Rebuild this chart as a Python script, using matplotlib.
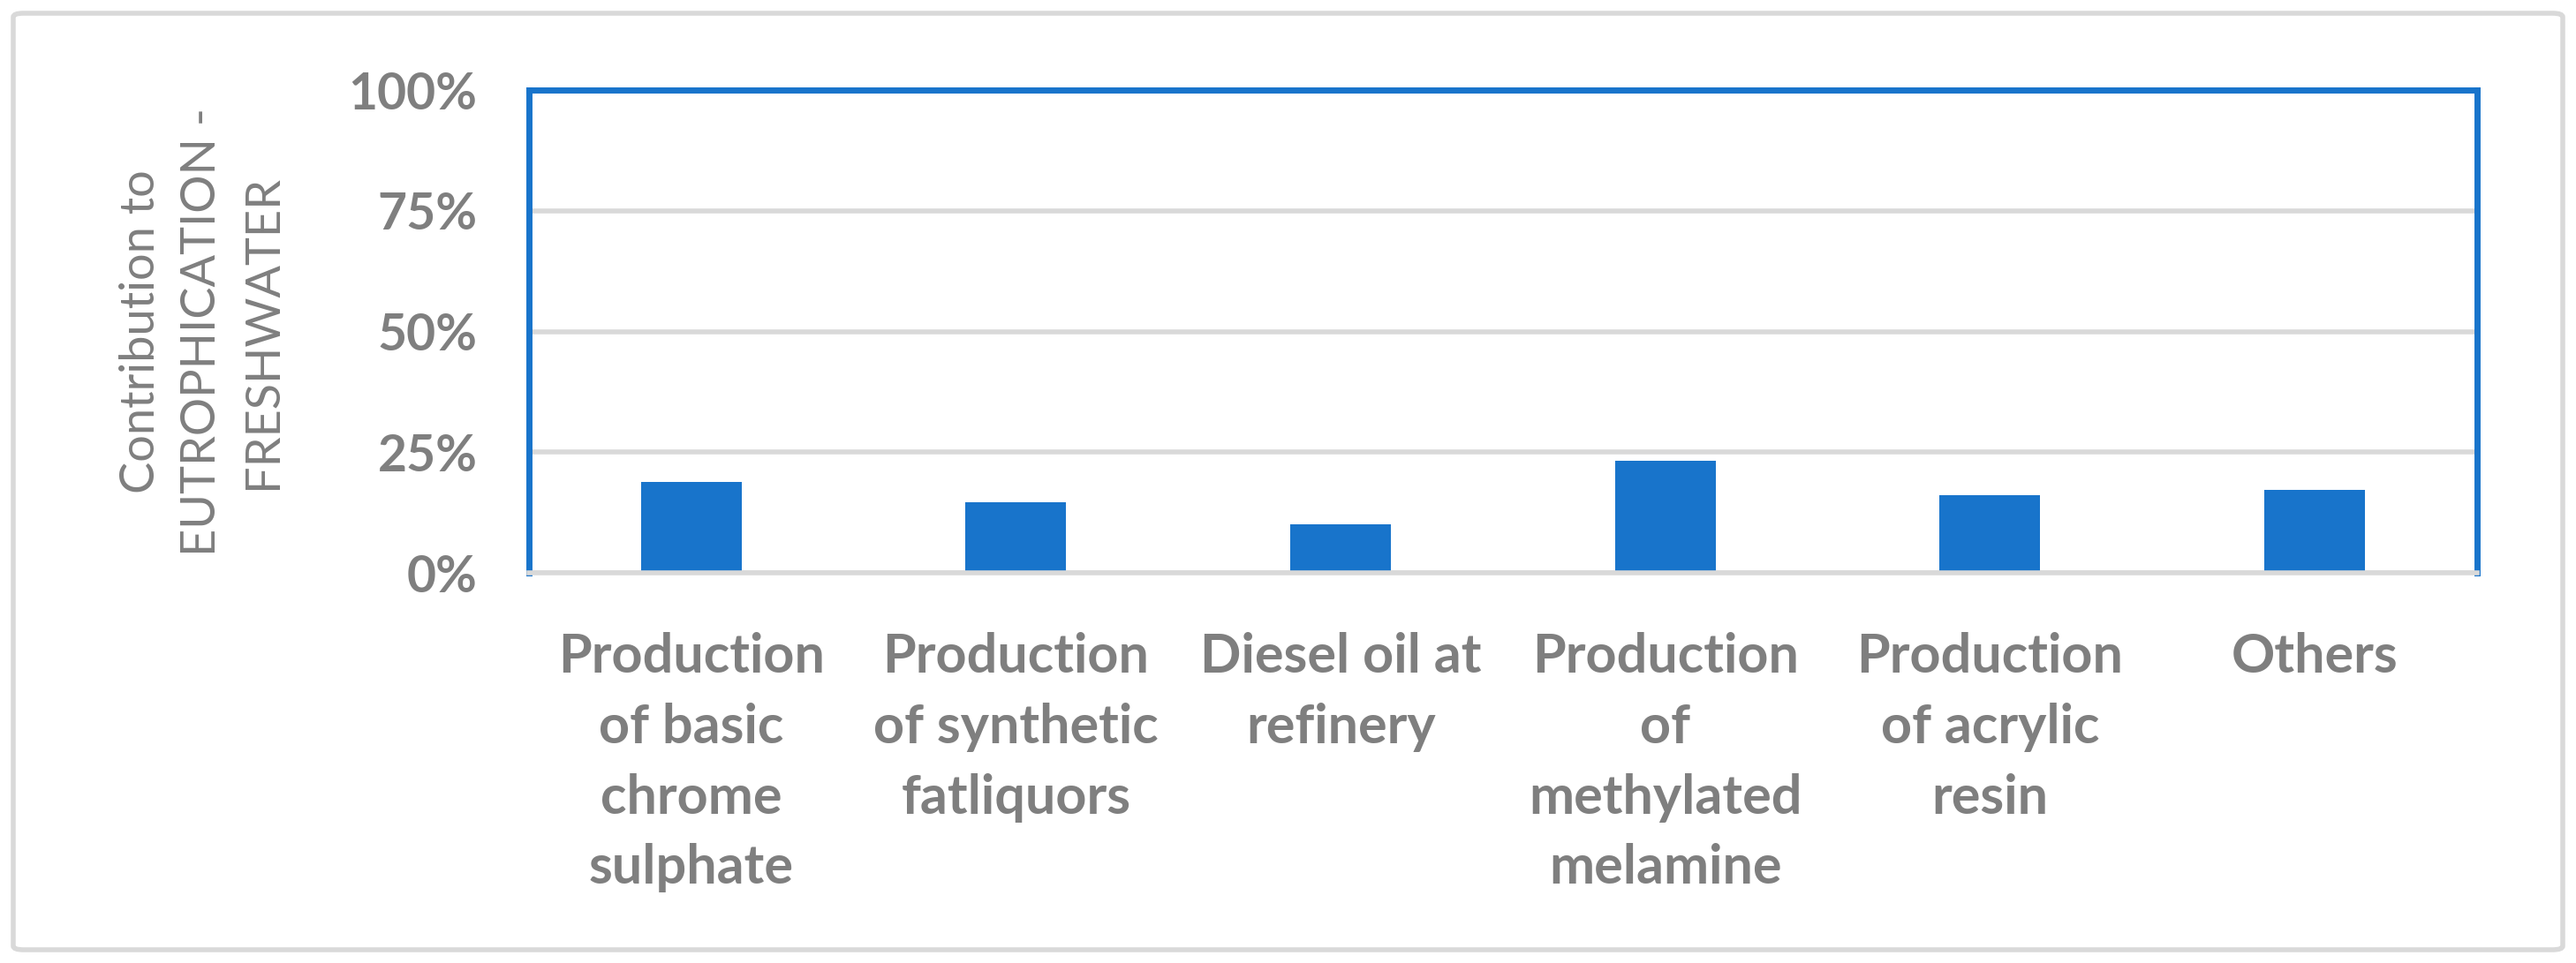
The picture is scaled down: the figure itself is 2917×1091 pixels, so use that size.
import matplotlib.pyplot as plt
from matplotlib.patches import FancyBboxPatch

categories = ['Production\nof basic\nchrome\nsulphate',
              'Production\nof synthetic\nfatliquors',
              'Diesel oil at\nrefinery',
              'Production\nof\nmethylated\nmelamine',
              'Production\nof acrylic\nresin',
              'Others']
values = [18.9, 14.7, 10.0, 23.2, 16.1, 17.1]
yticks = [0, 25, 50, 75, 100]
ytick_labels = ['0%', '25%', '50%', '75%', '100%']
ylabel = 'Contribution to\nEUTROPHICATION -\nFRESHWATER'

blue = '#1874CB'
grey_txt = '#7F7F7F'
grey_line = '#D9D9D9'

plt.rcParams['font.family'] = ['Lato', 'DejaVu Sans']

def main():
    fig = plt.figure(figsize=(29.17, 10.91), dpi=100)
    ax = fig.add_axes([0.2053, 0.4051, 0.7563, 0.5014])

    x = range(len(categories))
    ax.bar(x, values, width=0.31, color=blue, zorder=3)

    ax.set_xlim(-0.5, len(categories) - 0.5)
    ax.set_ylim(0, 100)
    ax.set_yticks(yticks)
    ax.set_yticklabels(ytick_labels)
    ax.set_xticks(list(x))
    ax.set_xticklabels(categories, linespacing=1.52, va='top')

    ax.grid(axis='y', color=grey_line, linewidth=4, zorder=0)
    ax.tick_params(axis='y', length=0, pad=42, labelsize=41, labelcolor=grey_txt)
    ax.tick_params(axis='x', length=0, pad=48, labelsize=44, labelcolor=grey_txt)
    for lab in ax.get_xticklabels() + ax.get_yticklabels():
        lab.set_fontweight('bold')

    # plot area border is blue, category axis line is grey
    for s in ['left', 'top', 'right']:
        ax.spines[s].set_color(blue)
        ax.spines[s].set_linewidth(5)
    ax.spines['bottom'].set_color(grey_line)
    ax.spines['bottom'].set_linewidth(4)
    ax.spines['bottom'].set_zorder(4)

    fig.text(228 / 2917, 0.6555, ylabel, rotation=90, fontsize=39,
             color=grey_txt, ha='center', va='center',
             linespacing=1.5, multialignment='center')

    # outer chart frame
    frame = FancyBboxPatch((15 / 2917, 15 / 1091), 1 - 30 / 2917, 1 - 30 / 1091,
                           boxstyle='round,pad=0,rounding_size=0.004',
                           transform=fig.transFigure, facecolor='none',
                           edgecolor=grey_line, linewidth=4)
    fig.patches.append(frame)

    fig.savefig('out.png', dpi=100, facecolor='white')

if __name__ == '__main__':
    main()
